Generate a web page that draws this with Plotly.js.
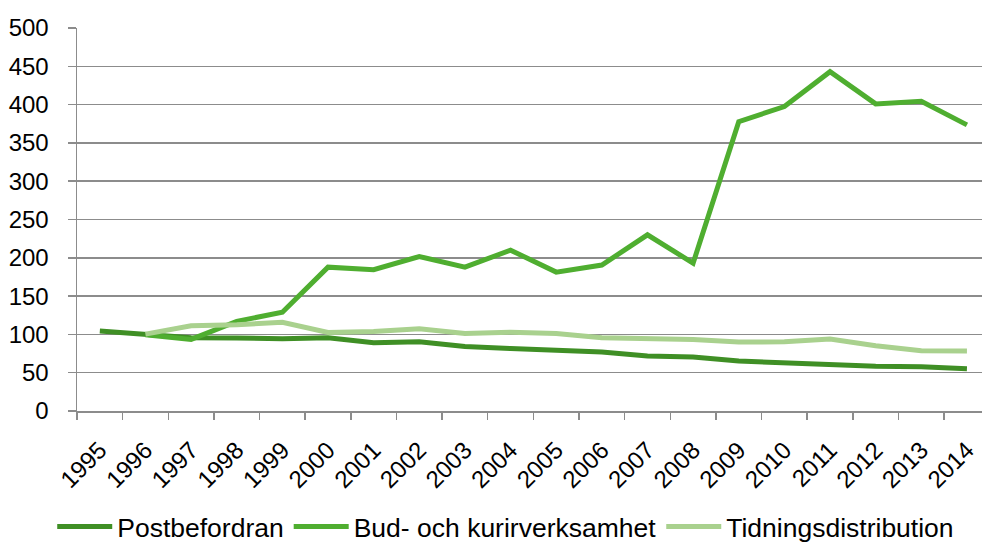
<!DOCTYPE html>
<html>
<head>
<meta charset="utf-8">
<script src="https://cdn.plot.ly/plotly-3.0.1.min.js"></script>
<style>
html, body { margin: 0; padding: 0; overflow: hidden; background: #fff; }
#chart { width: 982px; height: 543px; }
</style>
</head>
<body>
<div id="chart"></div>
<script>
const years = ["1995","1996","1997","1998","1999","2000","2001","2002","2003","2004",
               "2005","2006","2007","2008","2009","2010","2011","2012","2013","2014"];
const postbefordran = [104.3, 100.4, 95.7, 95.2, 94.3, 95.7, 89, 90.5, 84.3, 81.5,
                       79.1, 77, 71.7, 70.4, 65.2, 63, 60.4, 58.3, 57.8, 55.2];
const budKurir = [null, 99.6, 93.5, 117, 129, 187.8, 184.5, 201.7, 187.8, 210,
                  181.3, 190.5, 230, 193, 377.8, 397.4, 443, 400.9, 404.3, 373.5];
const tidning = [null, 100.4, 111.3, 112.6, 115.7, 102.6, 103.9, 107.4, 101.3, 102.8,
                 101.3, 95.7, 93.9, 93.5, 90, 90.4, 93.9, 85.2, 78.7, 78.3];
const seriesNames = ["Postbefordran", "Bud- och kurirverksamhet", "Tidningsdistribution"];
const seriesColors = ["#3f8f25", "#4fae30", "#a9d18e"];
const yTicks = [0, 50, 100, 150, 200, 250, 300, 350, 400, 450, 500];

const allSeries = [postbefordran, budKurir, tidning];
const traces = allSeries.map((vals, i) => ({
  type: "scatter",
  mode: "lines",
  name: seriesNames[i],
  x: years,
  y: vals,
  connectgaps: false,
  line: { color: seriesColors[i], width: 5 },
  hoverinfo: "x+y+name"
}));

const font = "'Liberation Sans', Arial, sans-serif";
const layout = {
  width: 982,
  height: 543,
  margin: { l: 77, r: 0, t: 28, b: 132, pad: 0 },
  paper_bgcolor: "#ffffff",
  plot_bgcolor: "#ffffff",
  font: { family: font, color: "#000000", size: 24 },
  showlegend: true,
  legend: {
    orientation: "h",
    xref: "container", yref: "container",
    x: 0.515, xanchor: "center",
    y: 0.03, yanchor: "middle",
    font: { family: font, size: 26.5, color: "#000000" },
    itemwidth: 55,
    tracegroupgap: 0,
    bgcolor: "rgba(0,0,0,0)"
  },
  xaxis: {
    type: "category",
    categoryorder: "array",
    categoryarray: years,
    range: [-0.5, 19.33],
    tickmode: "array",
    tickvals: years,
    ticktext: years,
    tickson: "boundaries",
    ticks: "outside",
    ticklen: 7,
    tickwidth: 1.5,
    tickcolor: "#8c8c8c",
    tickangle: -45,
    ticklabelstandoff: 14,
    tickfont: { family: font, size: 24, color: "#000000" },
    showline: true,
    linecolor: "#8c8c8c",
    linewidth: 1.5,
    showgrid: false,
    zeroline: false,
    fixedrange: true
  },
  yaxis: {
    range: [0, 500],
    tickmode: "array",
    tickvals: yTicks,
    ticktext: yTicks.map(String),
    ticks: "outside",
    ticklen: 8,
    tickwidth: 1.5,
    tickcolor: "#8c8c8c",
    ticklabelstandoff: 14,
    tickfont: { family: font, size: 24, color: "#000000" },
    showline: true,
    linecolor: "#8c8c8c",
    linewidth: 1.5,
    showgrid: true,
    gridcolor: "#8c8c8c",
    gridwidth: 1.5,
    zeroline: false,
    fixedrange: true
  }
};

Plotly.newPlot("chart", traces, layout, { displayModeBar: false, staticPlot: true });
</script>
</body>
</html>
